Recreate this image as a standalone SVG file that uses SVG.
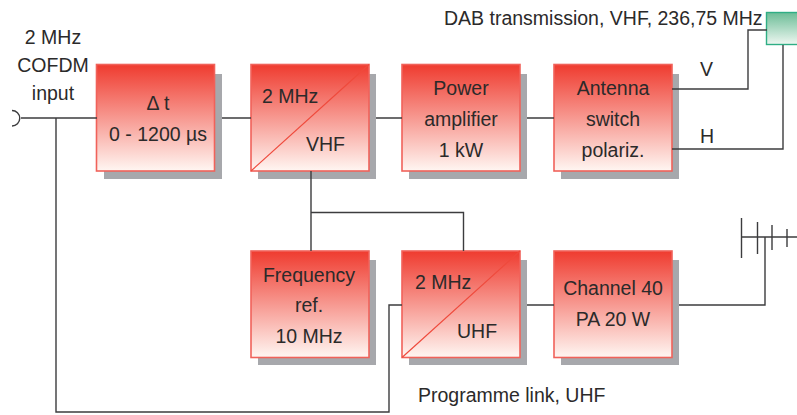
<svg xmlns="http://www.w3.org/2000/svg" width="797" height="415" viewBox="0 0 797 415">
<style>
.t{font-family:"Liberation Sans",Arial,sans-serif;font-size:19.500px;fill:#2b2a2a;text-anchor:middle}
.l{text-anchor:start}
.b{fill:url(#red);stroke:#f0625a;stroke-width:1.6}
.s{fill:#a7a8ac}
.d{stroke:#ef4a3c;stroke-width:1.2;fill:none}
.c{fill:none;stroke:#3c3c3e;stroke-width:1.4}
</style>
<defs>
<linearGradient id="red" x1="0" y1="0" x2="0" y2="1"><stop offset="0" stop-color="#ef3b2f"/><stop offset="1" stop-color="#fff6f2"/></linearGradient>
<linearGradient id="green" x1="0" y1="0" x2="0" y2="1"><stop offset="0" stop-color="#6cbd97"/><stop offset="1" stop-color="#eef7f1"/></linearGradient>
</defs>
<rect width="797" height="415" fill="#fff"/>
<g id="delay"><rect class="s" x="104" y="74" width="118" height="105"/><rect class="b" x="96.500" y="64.500" width="118" height="106.500"/><text class="t" x="158" y="110">Δ t</text><text class="t" x="158" y="141">0 - 1200 µs</text></g>
<g id="conv-vhf"><rect class="s" x="258" y="74" width="118" height="105"/><rect class="b" x="251" y="64.500" width="118" height="106.500"/><path class="d" d="M251 171L369 64.500"/><text class="t l" x="262" y="103">2 MHz</text><text class="t l" x="306" y="151">VHF</text></g>
<g id="power-amp"><rect class="s" x="409" y="74" width="118" height="105"/><rect class="b" x="402" y="64.500" width="118" height="106.500"/><text class="t" x="461" y="94.500">Power</text><text class="t" x="461" y="125.500">amplifier</text><text class="t" x="461" y="156.500">1 kW</text></g>
<g id="antenna-switch"><rect class="s" x="561" y="74" width="118" height="105"/><rect class="b" x="554" y="64.500" width="118" height="106.500"/><text class="t" x="613" y="94.500">Antenna</text><text class="t" x="613" y="125.500">switch</text><text class="t" x="613" y="156.500">polariz.</text></g>
<g id="freq-ref"><rect class="s" x="258" y="260" width="118" height="105"/><rect class="b" x="251" y="251" width="118" height="106.500"/><text class="t" x="309" y="282">Frequency</text><text class="t" x="309" y="312">ref.</text><text class="t" x="309" y="343">10 MHz</text></g>
<g id="conv-uhf"><rect class="s" x="409" y="260" width="118" height="105"/><rect class="b" x="402" y="251" width="118" height="106.500"/><path class="d" d="M402 357.500L520 251"/><text class="t l" x="415" y="289">2 MHz</text><text class="t l" x="457" y="338">UHF</text></g>
<g id="pa-uhf"><rect class="s" x="561" y="260" width="118" height="105"/><rect class="b" x="554" y="251" width="118" height="106.500"/><text class="t" x="613" y="295">Channel 40</text><text class="t" x="613" y="326">PA 20 W</text></g>
<g id="dab-antenna"><rect x="766.500" y="12.500" width="34" height="32" fill="url(#green)" stroke="#2fae85" stroke-width="1.4"/></g>
<g id="connectors">
<path class="c" d="M21 118H97M56 118V412H389V305H402"/>
<path class="c" d="M222 118H251M376 118H402M527 118H554M527 305H554"/>
<path class="c" d="M672 89H748V30H767M672 149H783V45"/>
<path class="c" d="M311 171V251M311 212.500H463.500V251"/>
<path class="c" d="M679 305H765V237"/>
<path class="c" d="M741 237H797M741.500 218V258M757.500 222V254M772 225V250M787 229V247"/>
<path class="c" d="M12 110.500A7.500 7.500 0 0 1 12 126"/>
</g>
<g id="labels">
<text class="t" x="53" y="44">2 MHz</text><text class="t" x="53" y="72">COFDM</text><text class="t" x="53" y="100">input</text>
<text class="t l" x="444" y="25">DAB transmission, VHF, 236,75 MHz</text>
<text class="t l" x="700" y="76">V</text><text class="t l" x="700" y="143">H</text>
<text class="t l" x="418" y="402">Programme link, UHF</text>
</g>
</svg>
